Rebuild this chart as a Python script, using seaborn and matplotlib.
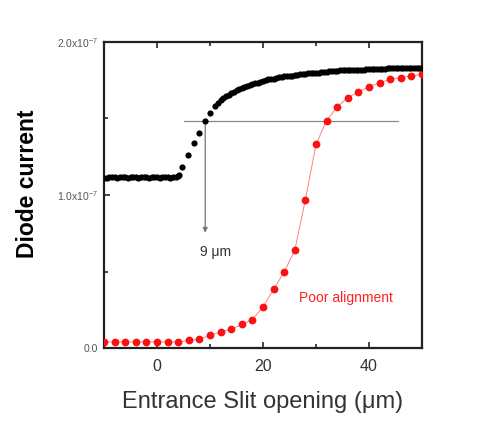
import numpy as np
import pandas as pd
import matplotlib
matplotlib.use("Agg")
import matplotlib.pyplot as plt
import seaborn as sns

# ---- data (values in units of 1e-7 A) ----
black_x = ([-10 + 0.5 * i for i in range(29)] +
           [4.2, 4.8, 5.8, 7.0, 7.95, 8.97, 9.97, 11.0] +
           [11.5 + 0.5 * i for i in range(78)])
black_y = ([1.110, 1.112, 1.115, 1.118, 1.115, 1.112, 1.118, 1.120, 1.115, 1.112,
            1.118, 1.120, 1.115, 1.113, 1.117, 1.120, 1.116, 1.112, 1.115, 1.119,
            1.117, 1.113, 1.116, 1.120, 1.118, 1.114, 1.117, 1.120, 1.122] +
           [1.130, 1.181, 1.261, 1.342, 1.407, 1.486, 1.534, 1.580] +
           [1.600, 1.620, 1.635, 1.645, 1.655, 1.665, 1.675, 1.685, 1.690, 1.700,
            1.705, 1.710, 1.720, 1.725, 1.730, 1.735, 1.740, 1.745, 1.750, 1.755,
            1.760, 1.760, 1.765, 1.770, 1.770, 1.775, 1.775, 1.780, 1.780, 1.785,
            1.785, 1.790, 1.790, 1.790, 1.795, 1.795, 1.800, 1.800, 1.800, 1.805,
            1.805, 1.805, 1.810, 1.810, 1.810, 1.810, 1.815, 1.815, 1.815, 1.815,
            1.820, 1.820, 1.820, 1.820, 1.820, 1.820, 1.825, 1.825, 1.825, 1.825,
            1.825, 1.825, 1.825, 1.825, 1.828, 1.828, 1.828, 1.828, 1.828, 1.828,
            1.828, 1.830, 1.830, 1.830, 1.830, 1.830, 1.830, 1.830])

red_x = [-10, -8, -6, -4, -2, 0, 2, 4, 6, 8, 10, 12, 14, 16, 18, 20, 22, 24, 26,
         28, 30, 32, 34, 36, 38, 40, 42, 44, 46, 48, 50]
red_y = [0.041, 0.041, 0.041, 0.041, 0.041, 0.041, 0.041, 0.041, 0.050, 0.059,
         0.083, 0.107, 0.124, 0.155, 0.187, 0.270, 0.384, 0.499, 0.640, 0.970,
         1.331, 1.486, 1.577, 1.636, 1.675, 1.706, 1.734, 1.756, 1.767, 1.778, 1.789]

scale = 1e-7
x_ticks = [0, 20, 40]
x_tick_labels = ["0", "20", "40"]
y_ticks = [0.0, 1.0e-7, 2.0e-7]
y_tick_labels = ["0.0", r"1.0x10$^{-7}$", r"2.0x10$^{-7}$"]

threshold = 1.486     # horizontal marker level (1e-7)
arrow_x = 9.1
arrow_end = 0.754

df_black = pd.DataFrame({"x": black_x, "y": np.array(black_y) * scale})
df_red = pd.DataFrame({"x": red_x, "y": np.array(red_y) * scale})

sns.set_theme(style="white")
plt.rcParams["font.family"] = ["Liberation Sans", "DejaVu Sans"]
plt.rcParams["mathtext.fontset"] = "custom"
plt.rcParams["mathtext.rm"] = "Liberation Sans"

fig = plt.figure(figsize=(5.0, 4.22), dpi=100)
ax = fig.add_axes([0.208, 0.175, 0.636, 0.7256])

sns.lineplot(data=df_red, x="x", y="y", ax=ax, color="#ff8080", lw=0.7,
             marker="o", markersize=5.6, markerfacecolor="#ff1010",
             markeredgecolor="#ff1010", markeredgewidth=0, zorder=3)
sns.scatterplot(data=df_black, x="x", y="y", ax=ax, color="black", s=20,
                linewidth=0, zorder=4)

ax.plot([5.1, 45.5], [threshold * scale, threshold * scale], color="#888888", lw=0.9, zorder=2)
ax.annotate("", xy=(arrow_x, arrow_end * scale), xytext=(arrow_x, threshold * scale),
            arrowprops=dict(arrowstyle="-|>", color="#777777", lw=0.9,
                            mutation_scale=7, shrinkA=0, shrinkB=0), zorder=2)
ax.text(11.1, 0.63e-7, "9 \u03bcm", ha="center", va="center", fontsize=10, color="#333333")
ax.text(35.7, 0.325e-7, "Poor alignment", ha="center", va="center", fontsize=10,
        color="#ff2020")

ax.set_xlim(-10, 50)
ax.set_ylim(0, 2.0e-7)
ax.set_xticks(x_ticks)
ax.set_xticklabels(x_tick_labels, fontsize=11.5, color="#333333")
ax.set_xticks([10, 30], minor=True)
ax.set_yticks(y_ticks)
ax.set_yticklabels(y_tick_labels, fontsize=7.5, color="#555555")
ax.set_yticks([0.5e-7, 1.5e-7], minor=True)

ax.tick_params(axis="both", which="major", direction="in", length=4, width=1.2,
               top=True, right=False, bottom=True, left=True, pad=4)
ax.tick_params(axis="x", which="major", pad=8)
ax.tick_params(axis="both", which="minor", direction="in", length=3, width=1.2,
               top=True, right=False, bottom=True, left=True)
for s in ax.spines.values():
    s.set_linewidth(1.6)
    s.set_color("#222222")

ax.set_xlabel("Entrance Slit opening (\u03bcm)", fontsize=17, color="#333333", labelpad=12)
ax.set_ylabel("Diode current", fontsize=16.5, fontweight="bold", color="black")
ax.yaxis.set_label_coords(-0.203, 0.537)

fig.savefig("out.png", dpi=100)
